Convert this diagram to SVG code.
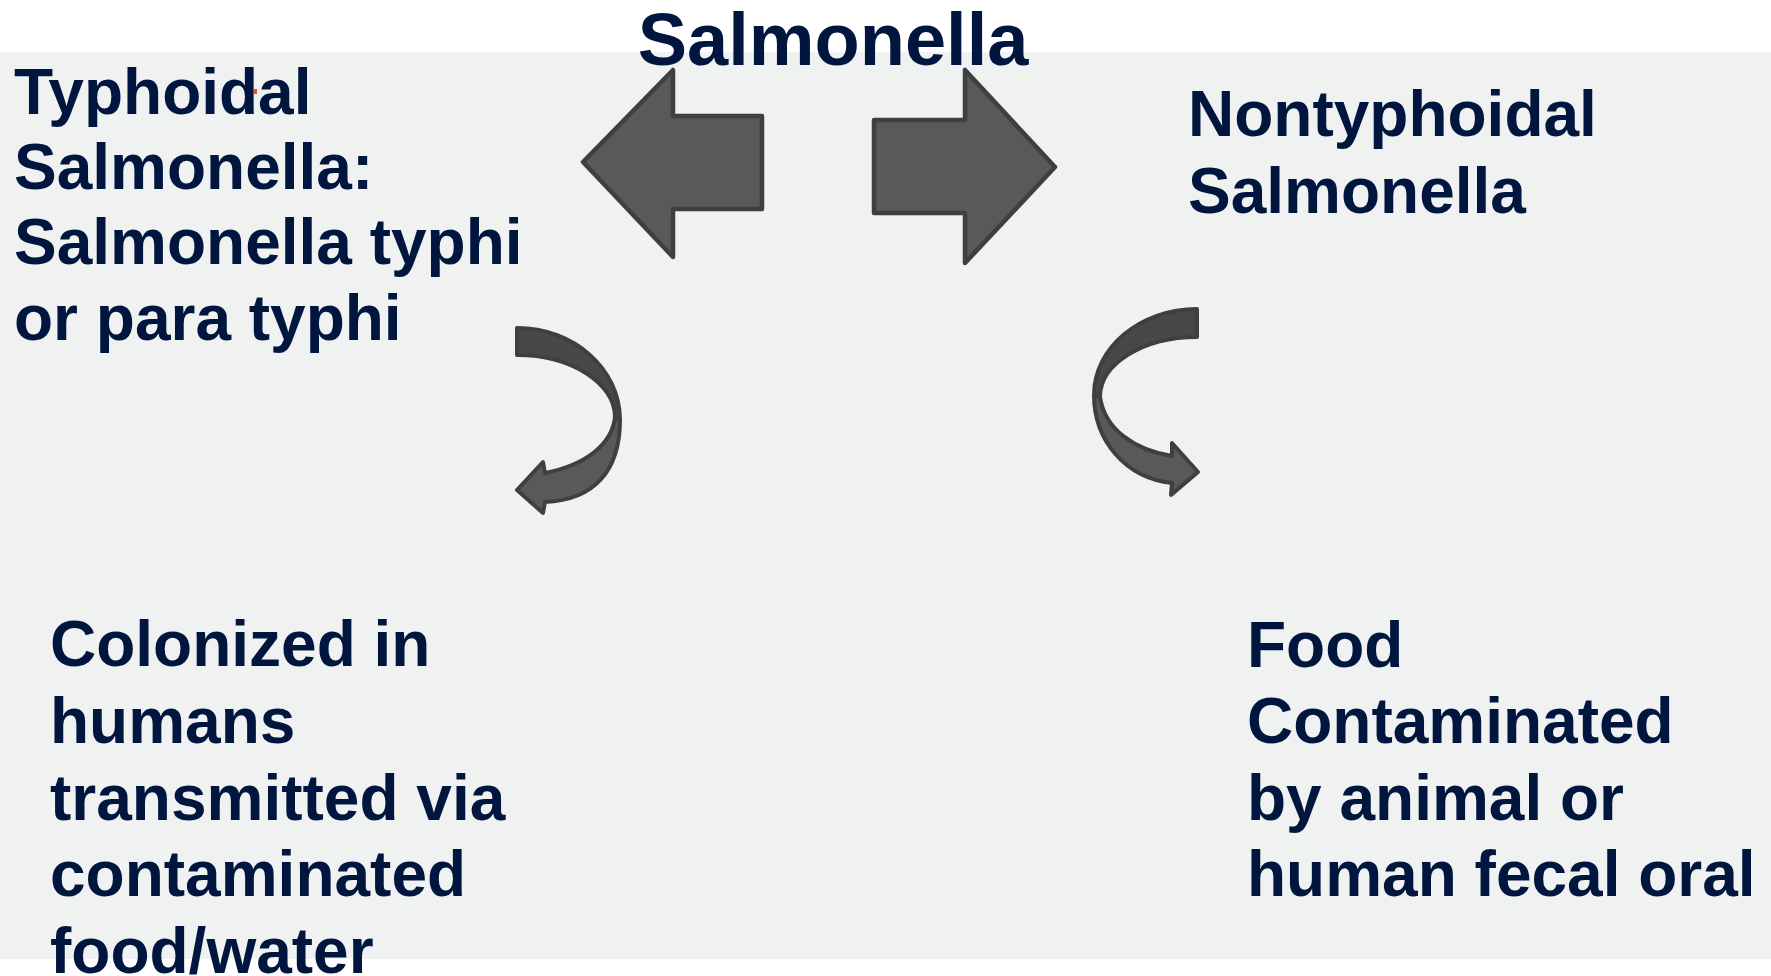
<svg xmlns="http://www.w3.org/2000/svg" width="1771" height="976" viewBox="0 0 1771 976">
<style>
.t{font-family:"Liberation Sans",Arial,sans-serif;font-weight:bold;fill:#00163f;font-size:64px}
.ttl{font-size:74px}
.blk{fill:#58595b;stroke:#3e3f41;stroke-width:4.5;stroke-linejoin:round}
.cd{fill:#47484a;stroke:#3e3f41;stroke-width:4;stroke-linejoin:round}
.cl{fill:#58595b;stroke:#3e3f41;stroke-width:4;stroke-linejoin:round}
</style>
<rect x="0" y="0" width="1771" height="976" fill="#ffffff"/>
<rect x="0" y="52" width="1771" height="907" fill="#f0f2f1"/>
<g id="connectors">
<path class="blk" d="M583,162 L673,70 L673,116 L762,116 L762,209 L673,209 L673,257 Z"/>
<path class="blk" d="M1055,167 L965,70 L965,120 L874,120 L874,213 L965,213 L965,263 Z"/>
<g id="curved-left">
<path class="cd" d="M517,328 C574,328 620,369 620,420 L615,417 C615,383 571,355 517,355 Z"/>
<path class="cl" d="M620,420 C620,470 595,500 545,502 L543,513 L517,490 L543,462 L545,473 C585,465 612,445 615,417 Z"/>
</g>
<g id="curved-right">
<path class="cd" d="M1197,309 C1140,309 1094,348 1094,395 L1100,397 C1100,364 1143,337 1197,337 Z"/>
<path class="cl" d="M1094,395 C1094,440 1125,478 1172,483 L1171,495 L1198,472 L1172,443 L1172,456 C1135,450 1105,430 1100,397 Z"/>
</g>
</g>
<g id="title"><text class="t ttl" x="833" y="65" text-anchor="middle">Salmonella</text></g>
<g id="typhoidal">
<text class="t" x="14" y="114">Typhoidal</text>
<text class="t" x="14" y="189">Salmonella:</text>
<text class="t" x="14" y="264">Salmonella typhi</text>
<text class="t" x="14" y="340">or para typhi</text>
<rect x="254" y="89" width="3" height="5" fill="#e8501e"/>
</g>
<g id="nontyphoidal">
<text class="t" x="1188" y="136">Nontyphoidal</text>
<text class="t" x="1188" y="213">Salmonella</text>
</g>
<g id="colonized">
<text class="t" x="50" y="666">Colonized in</text>
<text class="t" x="50" y="743">humans</text>
<text class="t" x="50" y="820">transmitted via</text>
<text class="t" x="50" y="896">contaminated</text>
<text class="t" x="50" y="973">food/water</text>
</g>
<g id="food">
<text class="t" x="1247" y="667">Food</text>
<text class="t" x="1247" y="743">Contaminated</text>
<text class="t" x="1247" y="820">by animal or</text>
<text class="t" x="1247" y="896">human fecal oral</text>
</g>
</svg>
